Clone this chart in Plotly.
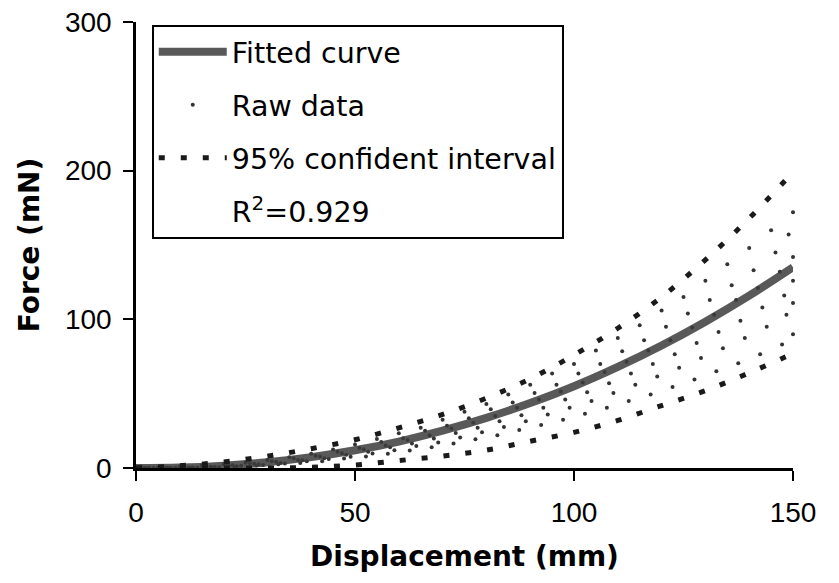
import plotly.graph_objects as go

# ---- data ----
x_s1 = [0, 5, 10, 15, 20, 25, 30, 35, 40, 45, 50, 55, 60, 65, 70, 75,
        80, 85, 90, 95, 100, 105, 110, 115, 120, 125, 130, 135, 140, 145, 150]
x_s2 = [1, 6, 11, 16, 21, 26, 31, 36, 41, 46, 51, 56, 61, 66, 71, 76,
        81, 86, 91, 96, 101, 106, 111, 116, 121, 126, 131, 136, 141, 146, 149]
x_s3 = [2, 7, 12, 17, 22, 27, 32, 37, 42, 47, 52, 57, 62, 67, 72, 77,
        82, 87, 92, 97, 102, 107, 112, 117, 122, 127, 132, 137, 142, 147, 150]
x_s4 = [3, 8, 13, 18, 23, 28, 33, 38, 43, 48, 53, 58, 63, 68, 73, 78,
        83, 88, 93, 98, 103, 108, 113, 118, 123, 128, 133, 138, 143, 148, 150]
x_s5 = [4, 9, 14, 19, 24, 29, 34, 39, 44, 49, 54, 59, 64, 69, 74, 79,
        84, 89, 94, 99, 104, 109, 114, 119, 124, 129, 134, 139, 144, 148.5, 150]
x_s6 = [2.5, 7.5, 12.5, 17.5, 22.5, 27.5, 32.5, 37.5, 42.5, 47.5, 52.5, 57.5, 62.5, 67.5, 72.5, 77.5,
        82.5, 87.5, 92.5, 97.5, 102.5, 107.5, 112.5, 117.5, 122.5, 127.5, 132.5, 137.5, 142.5, 147.5, 150]
raw_s1 = [0, 0.3, 0.8, 1.5, 2.6, 3.5, 5.4, 7.2, 9.6, 12.5, 15.8, 19.5, 23.4, 27.0, 32.5, 37.8,
          43.0, 49.5, 56.0, 63.5, 70.0, 79.0, 87.5, 96.0, 106, 115, 126, 137, 148, 160, 172]
raw_s2 = [0.2, 0.5, 0.6, 1.4, 2.0, 3.2, 4.6, 6.5, 8.2, 11.0, 13.5, 17.5, 20.0, 25.0, 28.5, 33.5,
          39.5, 44.0, 50.5, 56.0, 63.5, 70.0, 78.5, 86.0, 95.0, 104, 113, 123, 133, 145, 157]
raw_s3 = [0, 0.1, 0.4, 0.9, 1.8, 2.9, 4.2, 5.4, 7.8, 9.9, 12.6, 15.2, 18.9, 22.0, 26.5, 30.5,
          35.0, 40.5, 46.0, 51.5, 57.5, 64.5, 71.5, 79.0, 86.0, 94.5, 103, 113, 121, 132, 142]
raw_s4 = [0.1, 0, 0.3, 0.7, 1.2, 2.5, 3.4, 5.2, 6.6, 8.9, 11.0, 13.9, 16.4, 19.8, 23.5, 27.0,
          31.5, 35.5, 40.5, 46.0, 51.0, 57.0, 63.5, 70.0, 76.5, 84.0, 91.5, 99.0, 108, 116, 126]
raw_s5 = [0, 0.2, 0.1, 0.5, 1.5, 2.0, 3.0, 4.5, 6.0, 7.5, 9.8, 12.0, 14.8, 17.2, 20.5, 24.0,
          27.5, 31.5, 36.0, 40.5, 45.0, 50.5, 56.0, 61.5, 67.5, 74.0, 80.5, 87.5, 95.0, 103, 111]
raw_s6 = [0, 0, 0.2, 0.4, 0.9, 1.6, 2.6, 3.4, 4.6, 6.4, 7.8, 9.6, 11.8, 14.0, 16.5, 19.3,
          22.0, 25.5, 29.0, 32.5, 36.5, 40.5, 45.0, 49.5, 54.5, 59.5, 65.0, 70.5, 76.5, 83.0, 90.0]

x_fit = [0, 10, 20, 30, 40, 50, 60, 70, 80, 90, 100, 110, 120, 130, 140, 150]
fitted = [0, 0.3, 1.6, 3.9, 7.3, 11.9, 17.8, 25.1, 33.7, 43.7, 55.0, 68.0, 82.4, 98.4, 115.9, 135.0]
ci_upper = [0, 1.5, 4, 8, 13, 19, 27, 36, 47, 60, 76, 94, 115, 140, 168, 199]
ci_lower = [0, 0, 0, 0, 0.5, 2, 5, 8, 12, 18, 24, 32, 42, 52, 64, 77]

x_ticks = [0, 50, 100, 150]
y_ticks = [0, 100, 200, 300]

FONT = "DejaVu Sans"
TICKFONT = "Liberation Sans"

fig = go.Figure()

raw_sets = [(x_s1, raw_s1), (x_s2, raw_s2), (x_s3, raw_s3),
            (x_s4, raw_s4), (x_s5, raw_s5), (x_s6, raw_s6)]
for i, (xs, s) in enumerate(raw_sets):
    fig.add_trace(go.Scatter(
        x=xs, y=s, mode="markers", name="Raw data",
        marker=dict(size=4, color="#333333"),
        legendgroup="raw", showlegend=(i == 0), legendrank=2, cliponaxis=False))

fig.add_trace(go.Scatter(
    x=x_fit, y=fitted, mode="lines", name="Fitted curve",
    line=dict(color="rgba(60,60,60,0.85)", width=8, shape="spline"),
    legendgroup="fit", legendrank=1))

fig.add_trace(go.Scatter(
    x=x_fit, y=ci_upper, mode="lines", name="95% confident interval",
    line=dict(color="#1a1a1a", width=5, dash="6px,16px", shape="spline"),
    legendgroup="ci", legendrank=3))
fig.add_trace(go.Scatter(
    x=x_fit, y=ci_lower, mode="lines", name="95% confident interval",
    line=dict(color="#1a1a1a", width=5, dash="6px,16px", shape="spline"),
    legendgroup="ci", showlegend=False, legendrank=3))

fig.add_trace(go.Scatter(
    x=[None], y=[None], mode="lines", name="R<sup>2</sup>=0.929",
    line=dict(width=0, color="rgba(0,0,0,0)"),
    legendgroup="r2", legendrank=4))

fig.update_layout(
    width=839, height=583,
    margin=dict(l=136, r=46, t=22, b=115, autoexpand=False),
    paper_bgcolor="white", plot_bgcolor="white",
    font=dict(family=FONT, color="black", size=26),
    legend=dict(
        x=0.024, y=0.994, xanchor="left", yanchor="top",
        bordercolor="black", borderwidth=2, bgcolor="white",
        font=dict(family=FONT, size=28.5, color="black"),
        itemwidth=68, tracegroupgap=13, traceorder="grouped"),
    xaxis=dict(
        range=[0, 150], tickvals=x_ticks, showline=True, linecolor="black", linewidth=2.5,
        ticks="outside", ticklen=10, tickwidth=2, tickcolor="black",
        showgrid=False, zeroline=False, ticklabelstandoff=8, automargin=False,
        tickfont=dict(family=TICKFONT, size=28, color="black"),
        title=dict(text="<b>Displacement (mm)</b>", font=dict(family=FONT, size=28), standoff=20)),
    yaxis=dict(
        range=[0, 300], tickvals=y_ticks, showline=True, linecolor="black", linewidth=2.5,
        ticks="outside", ticklen=10, tickwidth=2, tickcolor="black",
        showgrid=False, zeroline=False, ticklabelstandoff=6, automargin=False,
        tickfont=dict(family=TICKFONT, size=28, color="black"),
        title=dict(text="<b>Force (mN)</b>", font=dict(family=FONT, size=28), standoff=18)),
)

fig.write_html("out.html")
